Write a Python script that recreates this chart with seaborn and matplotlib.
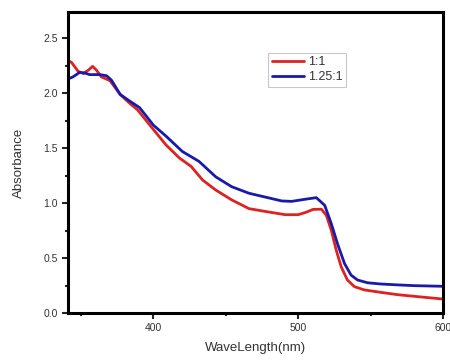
import matplotlib
matplotlib.use("Agg")
import matplotlib.pyplot as plt
import seaborn as sns
import pandas as pd
from matplotlib.ticker import MultipleLocator

# absorbance spectra
wl_red = [341, 343.5, 348, 351.6, 355, 358, 360.7, 364, 370, 377, 383.5, 389, 400,
          408.7, 418, 426, 434, 443, 454, 466, 477, 491, 500, 505, 510.3, 516, 519.4,
          522.8, 526.3, 529.7, 534, 538.8, 545.7, 557, 568.5, 580, 600]
abs_red = [2.30, 2.28, 2.20, 2.18, 2.21, 2.245, 2.21, 2.15, 2.115, 1.99, 1.91, 1.85, 1.67,
           1.53, 1.41, 1.335, 1.21, 1.12, 1.03, 0.95, 0.925, 0.895, 0.895, 0.915, 0.943, 0.945, 0.89,
           0.755, 0.57, 0.42, 0.30, 0.24, 0.21, 0.188, 0.167, 0.152, 0.127]

wl_blue = [341, 344.5, 349, 352.5, 356, 363, 367.6, 371, 377, 383.5, 390.4, 400, 408.7,
           420, 431.5, 443, 454, 466, 477, 488.6, 495.4, 504.6, 512.5, 518.3, 522.8,
           527.4, 532, 536.5, 541, 548, 557, 568.5, 580, 600]
abs_blue = [2.13, 2.15, 2.19, 2.185, 2.17, 2.17, 2.16, 2.12, 1.99, 1.93, 1.87, 1.71, 1.61,
            1.47, 1.38, 1.24, 1.15, 1.09, 1.056, 1.02, 1.016, 1.035, 1.05, 0.98, 0.815,
            0.62, 0.45, 0.345, 0.30, 0.275, 0.264, 0.256, 0.249, 0.243]

labels = ["1:1", "1.25:1"]

df = pd.concat([
    pd.DataFrame({"wl": wl_red, "A": abs_red, "ratio": labels[0]}),
    pd.DataFrame({"wl": wl_blue, "A": abs_blue, "ratio": labels[1]}),
])

sns.set_style("ticks")
plt.rcParams["font.family"] = ["Liberation Sans", "DejaVu Sans"]

fig = plt.figure(figsize=(4.5, 3.61), dpi=100)
ax = fig.add_axes([68 / 450, 48 / 361, 375 / 450, 301 / 361])

sns.lineplot(data=df, x="wl", y="A", hue="ratio", sort=False,
             palette={labels[0]: "#dd2222", labels[1]: "#1a1aaa"},
             linewidth=2, ax=ax)

ax.set_xlim(341, 600)
ax.set_ylim(0, 2.74)
ax.xaxis.set_major_locator(MultipleLocator(100))
ax.xaxis.set_minor_locator(MultipleLocator(50))
ax.yaxis.set_major_locator(MultipleLocator(0.5))
ax.yaxis.set_minor_locator(MultipleLocator(0.25))
ax.tick_params(which="major", direction="out", length=4, width=1.5,
               labelsize=7.5, labelcolor="#333333")
ax.tick_params(which="minor", direction="out", length=2.5, width=1.5)

for s in ax.spines.values():
    s.set_visible(True)
    s.set_linewidth(2.2)
    s.set_color("black")

ax.set_xlabel("WaveLength(nm)", fontsize=9.5, color="#333333", labelpad=6)
ax.set_ylabel("Absorbance", fontsize=9.5, color="#333333", labelpad=13)

leg = ax.legend(loc="upper left", bbox_to_anchor=(0.533, 0.865), fontsize=9,
                frameon=True, fancybox=False, handlelength=2.6,
                handletextpad=0.3, borderpad=0.3, labelspacing=0.2,
                borderaxespad=0)
leg.get_frame().set_edgecolor("#bbbbbb")
leg.get_frame().set_linewidth(0.8)
for t in leg.get_texts():
    t.set_color("#333333")

fig.savefig("out.png", dpi=100)
